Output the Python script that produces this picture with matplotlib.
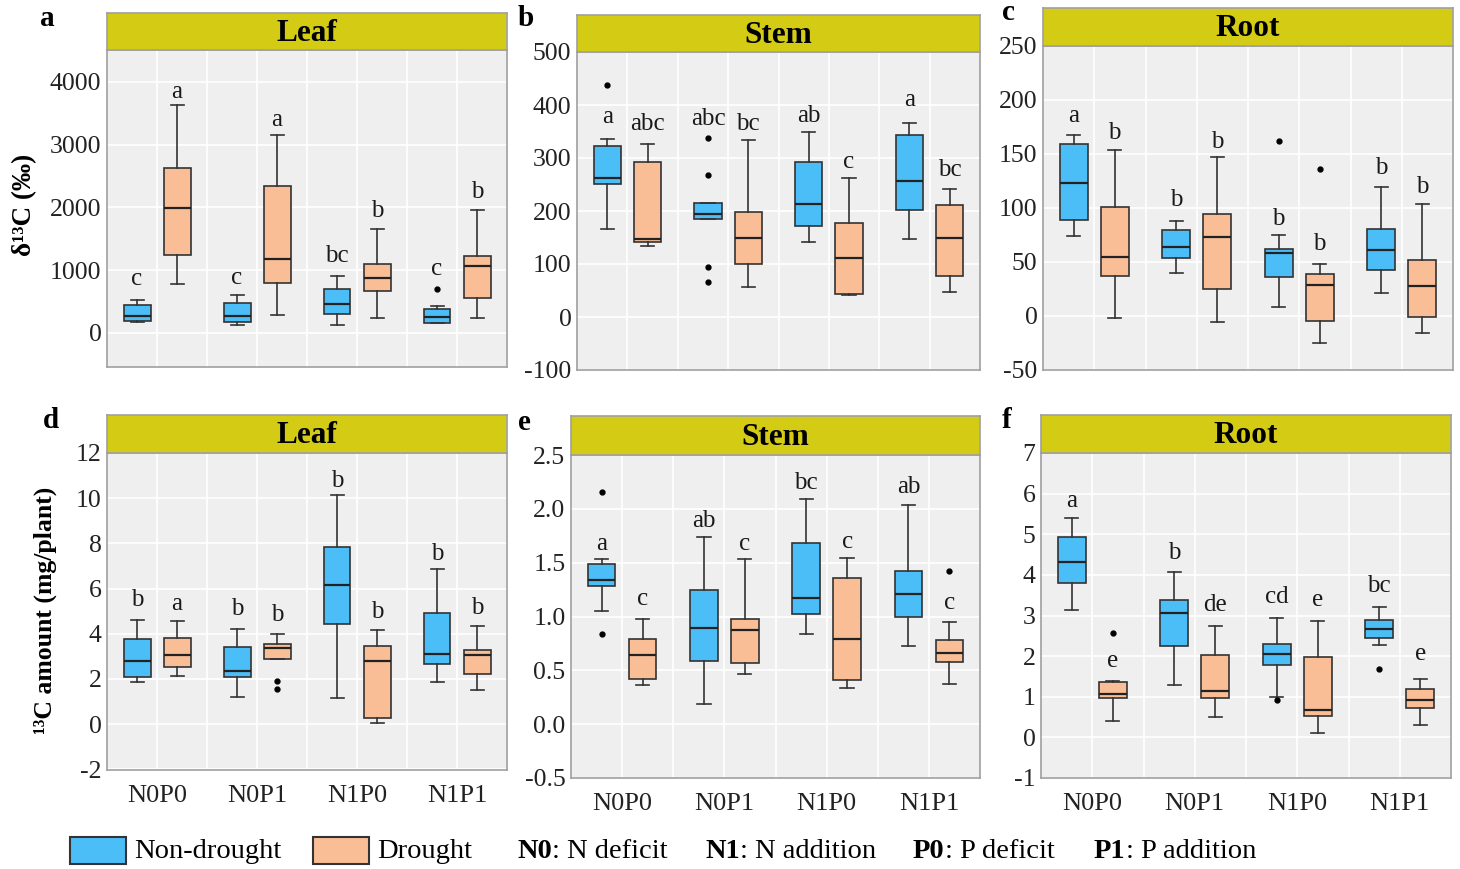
import numpy as np
import matplotlib.pyplot as plt
from matplotlib.patches import Rectangle

plt.rcParams['font.family'] = ['Liberation Serif', 'DejaVu Serif']

W, H = 1460, 869
groups = ['N0P0', 'N0P1', 'N1P0', 'N1P1']
blue = '#4CBEF7'
orange = '#F9BE96'
strip_col = '#D4CB15'

# rows: lower whisker, Q1, median, Q3, upper whisker
# box order: N0P0 non-drought, N0P0 drought, N0P1 ..., N1P1 drought
a_stats = [[180, 190, 270, 450, 530], [773, 1237, 1984, 2629, 3627],
           [117, 171, 267, 469, 603], [277, 800, 1173, 2336, 3147],
           [117, 293, 453, 693, 907], [240, 667, 869, 1093, 1653],
           [160, 160, 251, 373, 427], [240, 560, 1067, 1227, 1963]]
a_out = [[], [], [], [], [], [], [693], []]
a_let = ['c', 'a', 'c', 'a', 'bc', 'b', 'c', 'b']
a_let_y = [853, 3840, 880, 3387, 1227, 1947, 1013, 2251]

b_stats = [[166, 251, 263, 323, 335], [134, 142, 147, 292, 327],
           [184, 184, 195, 216, 216], [57, 100, 149, 198, 334],
           [141, 171, 214, 292, 349], [41, 43, 112, 178, 263],
           [147, 201, 256, 344, 366], [47, 78, 150, 211, 241]]
b_out = [[437], [], [337, 267, 95, 66], [], [], [], [], []]
b_let = ['a', 'abc', 'abc', 'bc', 'ab', 'c', 'a', 'bc']
b_let_y = [377, 364, 373, 365, 380, 292, 409, 278]

c_stats = [[74, 89, 123, 159, 168], [-2, 37, 55, 101, 154],
           [40, 54, 64, 80, 88], [-6, 25, 73, 94, 147],
           [8, 36, 58, 62, 75], [-25, -5, 29, 39, 48],
           [21, 43, 61, 81, 119], [-16, -1, 28, 52, 104]]
c_out = [[], [], [], [], [162], [136], [], []]
c_let = ['a', 'b', 'b', 'b', 'b', 'b', 'b', 'b']
c_let_y = [185, 169, 107, 161, 90, 67, 137, 119]

d_stats = [[1.85, 2.07, 2.79, 3.75, 4.59], [2.15, 2.55, 3.04, 3.82, 4.55],
           [1.21, 2.07, 2.37, 3.41, 4.22], [2.89, 2.89, 3.38, 3.53, 4.0],
           [1.14, 4.41, 6.15, 7.85, 10.15], [0.03, 0.25, 2.79, 3.48, 4.15],
           [1.85, 2.67, 3.11, 4.93, 6.86], [1.53, 2.22, 3.07, 3.30, 4.33]]
d_out = [[], [], [], [1.93, 1.56], [], [], [], []]
d_let = ['b', 'a', 'b', 'b', 'b', 'b', 'b', 'b']
d_let_y = [5.48, 5.30, 5.11, 4.81, 10.74, 4.96, 7.53, 5.16]

e_stats = [[1.05, 1.28, 1.34, 1.49, 1.53], [0.36, 0.42, 0.64, 0.79, 0.98],
           [0.19, 0.59, 0.89, 1.25, 1.74], [0.47, 0.57, 0.87, 0.98, 1.53],
           [0.84, 1.02, 1.17, 1.68, 2.09], [0.34, 0.41, 0.79, 1.36, 1.54],
           [0.73, 1.00, 1.21, 1.42, 2.04], [0.37, 0.58, 0.66, 0.78, 0.95]]
e_out = [[2.16, 0.84], [], [], [], [], [], [], [1.42]]
e_let = ['a', 'c', 'ab', 'c', 'bc', 'c', 'ab', 'c']
e_let_y = [1.67, 1.16, 1.89, 1.67, 2.24, 1.69, 2.20, 1.13]

f_stats = [[3.13, 3.79, 4.32, 4.93, 5.40], [0.41, 0.96, 1.07, 1.36, 1.40],
           [1.30, 2.24, 3.05, 3.39, 4.06], [0.51, 0.96, 1.13, 2.04, 2.73],
           [0.99, 1.77, 2.06, 2.31, 2.95], [0.12, 0.52, 0.68, 1.98, 2.87],
           [2.27, 2.45, 2.68, 2.88, 3.20], [0.31, 0.72, 0.92, 1.19, 1.44]]
f_out = [[], [2.58], [], [], [0.92], [], [1.69], []]
f_let = ['a', 'e', 'b', 'de', 'cd', 'e', 'bc', 'e']
f_let_y = [5.83, 1.88, 4.53, 3.25, 3.46, 3.38, 3.72, 2.04]

fig = plt.figure(figsize=(W / 100, H / 100), dpi=100)


def rect(x0, y0, x1, y1):
    # pixel box (top-left origin) -> figure fraction
    return [x0 / W, 1 - y1 / H, (x1 - x0) / W, (y1 - y0) / H]


def panel(tag, title, stats, out, let, let_y, ylim, yticks, fmt,
          box, strip_top, tag_xy, xlabels):
    x0, y0, x1, y1 = box
    ax = fig.add_axes(rect(x0, y0, x1, y1))
    ax.set_facecolor('#EFEFEF')
    pos = []
    for i in range(len(groups)):
        pos += [i + 1 - 0.2, i + 1 + 0.2]
    bst = []
    for s, o in zip(stats, out):
        bst.append(dict(whislo=s[0], q1=s[1], med=s[2], q3=s[3],
                        whishi=s[4], fliers=o))
    r = ax.bxp(bst, positions=pos, widths=0.27, capwidths=0.13,
               patch_artist=True, manage_ticks=False,
               boxprops=dict(edgecolor='#333333', linewidth=1.2),
               whiskerprops=dict(color='#333333', linewidth=1.2),
               capprops=dict(color='#333333', linewidth=1.2),
               medianprops=dict(color='#222222', linewidth=1.6),
               flierprops=dict(marker='o', markersize=3.5,
                               markerfacecolor='black',
                               markeredgecolor='black'))
    for k, b in enumerate(r['boxes']):
        b.set_facecolor(blue if k % 2 == 0 else orange)
    for p, t, y in zip(pos, let, let_y):
        ax.text(p, y, t, ha='center', va='center', fontsize=18,
                color='#1a1a1a')

    ax.set_xlim(0.5, 4.5)
    ax.set_ylim(*ylim)
    ax.set_xticks([1, 2, 3, 4])
    ax.set_xticks([1.5, 2.5, 3.5], minor=True)
    ax.set_yticks(yticks)
    ax.set_yticklabels([fmt.format(v) for v in yticks])
    if xlabels:
        ax.set_xticklabels(groups)
    else:
        ax.set_xticklabels([])
    ax.tick_params(axis='both', which='both', length=0, labelsize=18.5,
                   colors='#222222', pad=4)
    ax.tick_params(axis='x', pad=11, labelsize=19)
    ax.grid(True, which='both', axis='x', color='white', linewidth=1.2)
    ax.grid(True, which='major', axis='y', color='white', linewidth=1.2)
    ax.set_axisbelow(True)
    for sp in ax.spines.values():
        sp.set_color('#A0A0A0')
        sp.set_linewidth(1.2)

    st = fig.add_axes(rect(x0, strip_top, x1, y0))
    st.set_facecolor(strip_col)
    st.set_xticks([])
    st.set_yticks([])
    for sp in st.spines.values():
        sp.set_color('#A0A0A0')
        sp.set_linewidth(1.2)
    st.text(0.5, 0.45, title, ha='center', va='center', fontsize=22.5,
            fontweight='bold', transform=st.transAxes)
    fig.text(tag_xy[0] / W, 1 - tag_xy[1] / H, tag, fontsize=21,
             fontweight='bold', ha='left', va='center')
    return ax


panel('a', 'Leaf', a_stats, a_out, a_let, a_let_y, (-545, 4510),
      [0, 1000, 2000, 3000, 4000], '{:d}', (107, 50, 507, 367), 13,
      (40, 18), False)
panel('b', 'Stem', b_stats, b_out, b_let, b_let_y, (-100, 500),
      list(range(-100, 501, 100)), '{:d}', (577, 52, 980, 370), 15,
      (518, 18), False)
panel('c', 'Root', c_stats, c_out, c_let, c_let_y, (-50, 250),
      list(range(-50, 251, 50)), '{:d}', (1043, 46, 1453, 370), 8,
      (1002, 13), False)
panel('d', 'Leaf', d_stats, d_out, d_let, d_let_y, (-2.03, 12),
      list(range(-2, 13, 2)), '{:d}', (107, 453, 507, 770), 415,
      (43, 420), True)
panel('e', 'Stem', e_stats, e_out, e_let, e_let_y, (-0.5, 2.5),
      [-0.5, 0.0, 0.5, 1.0, 1.5, 2.0, 2.5], '{:.1f}', (571, 455, 980, 778),
      416, (518, 422), True)
panel('f', 'Root', f_stats, f_out, f_let, f_let_y, (-1, 7),
      list(range(-1, 8)), '{:d}', (1041, 453, 1451, 778), 415,
      (1002, 421), True)

fig.text(25 / W, 1 - 205 / H, 'δ¹³C (‰)', rotation=90, ha='center',
         va='center', fontsize=19.5, fontweight='bold')
fig.text(45 / W, 1 - 610 / H, '¹³C amount (mg/plant)', rotation=90,
         ha='center', va='center', fontsize=18.5, fontweight='bold')

# legend strip
for x, c in [(70, blue), (313, orange)]:
    r = rect(x, 837, x + 56, 864)
    fig.patches.append(Rectangle((r[0], r[1]), r[2], r[3], facecolor=c,
                                 edgecolor='#333333', linewidth=1.5,
                                 transform=fig.transFigure))
ly = 1 - 851 / H
fig.text(134 / W, ly, 'Non-drought', fontsize=20.5, va='center')
fig.text(377 / W, ly, 'Drought', fontsize=20.5, va='center')
renderer = fig.canvas.get_renderer()
for x, key, rest in [(517, 'N0', ': N deficit'), (705, 'N1', ': N addition'),
                     (913, 'P0', ': P deficit'), (1094, 'P1', ': P addition')]:
    t = fig.text(x / W, ly, key, fontsize=20.5, fontweight='bold', va='center')
    bb = t.get_window_extent(renderer)
    fig.text(bb.x1 / W, ly, rest, fontsize=20.5, va='center')

fig.savefig('out.png', dpi=100)
